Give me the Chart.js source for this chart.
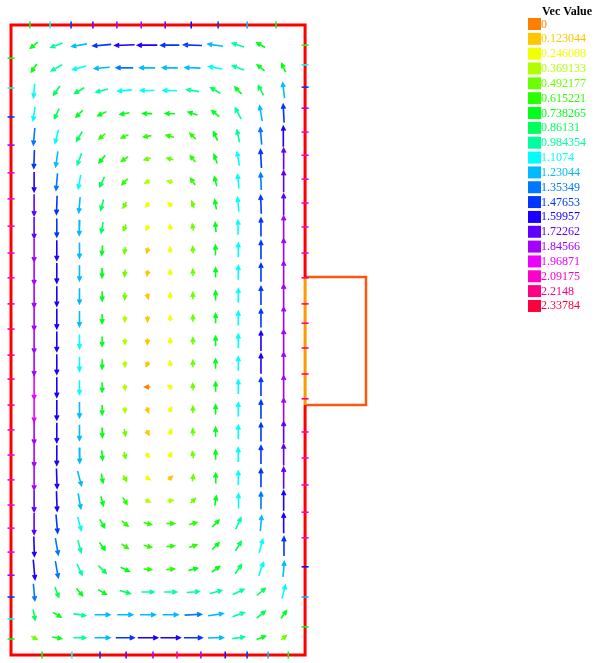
<!DOCTYPE html>
<html>
<head>
<meta charset="utf-8">
<title>Vec Value</title>
<script src="https://cdn.jsdelivr.net/npm/chart.js@4/dist/chart.umd.min.js"></script>
<style>
  html, body { margin: 0; padding: 0; background: #fff; }
  #wrap { width: 595px; height: 663px; }
</style>
</head>
<body>
<div id="wrap"><canvas id="field" width="595" height="663"></canvas></div>
<script>
// legend classes
const vecLevels = [0, 0.123044, 0.246088, 0.369133, 0.492177, 0.615221, 0.738265, 0.86131,
  0.984354, 1.1074, 1.23044, 1.35349, 1.47653, 1.59957, 1.72262, 1.84566, 1.96871,
  2.09175, 2.2148, 2.33784];
const levelColors = ["#FF8000", "#FFC600", "#F1FF00", "#AFFF00", "#6BFF00", "#2AFF00",
  "#00FF19", "#00FF5B", "#00FF9E", "#00FFFC", "#00BBFF", "#0078FF", "#0036FF",
  "#1900FF", "#5F00FF", "#A600FF", "#EC00FF", "#FF00CB", "#FF0085", "#FF003E"];

// cavity outline and the side box
const cavityW = 0.7;
const cavityH = 1.5;
const portBottom = 0.595;
const portTop = 0.9;
const portRight = 0.845;

// mesh nodes
const nodeX = [0.055, 0.109, 0.163, 0.217, 0.271, 0.325, 0.379, 0.433, 0.487, 0.541, 0.595, 0.649];
const nodeY = [1.452, 1.398, 1.344, 1.289, 1.235, 1.181, 1.127, 1.072, 1.018, 0.964, 0.910,
  0.855, 0.801, 0.747, 0.693, 0.638, 0.584, 0.530, 0.476, 0.421, 0.367, 0.313, 0.259,
  0.204, 0.150, 0.096, 0.041];

// colour class of each arrow, rows from the top
const arrowLevel = [
  [6, 8, 10, 12, 13, 13, 12, 12, 10, 8, 6, null],
  [6, 8, 9, 10, 11, 10, 10, 10, 9, 8, 6, 6],
  [9, 7, 7, 8, 9, 9, 9, 8, 7, 6, 7, 10],
  [9, 7, 6, 6, 6, 6, 6, 6, 6, 8, 10, 12],
  [11, 9, 7, 5, 5, 5, 5, 5, 6, 8, 11, 13],
  [12, 10, 8, 6, 5, 4, 4, 5, 6, 9, 12, 14],
  [13, 11, 9, 7, 5, 3, 3, 5, 6, 9, 11, 14],
  [14, 12, 10, 7, 4, 2, 2, 4, 6, 9, 12, 14],
  [14, 12, 10, 7, 4, 2, 2, 4, 6, 9, 12, 15],
  [15, 13, 10, 6, 4, 1, 2, 4, 6, 9, 12, 15],
  [15, 13, 10, 6, 4, 1, 2, 4, 6, 9, 12, 15],
  [15, 13, 10, 6, 4, 1, 2, 4, 6, 9, 12, 15],
  [15, 13, 10, 6, 3, 1, 2, 4, 6, 9, 12, 15],
  [15, 13, 9, 6, 3, 1, 2, 4, 6, 9, 13, 15],
  [15, 13, 9, 6, 3, 1, 2, 4, 6, 9, 13, 15],
  [16, 13, 9, 6, 3, 0, 2, 4, 6, 9, 12, 15],
  [16, 13, 10, 6, 3, 1, 2, 4, 6, 9, 12, 15],
  [15, 13, 10, 6, 4, 1, 2, 4, 6, 9, 12, 14],
  [15, 13, 10, 6, 4, 2, 2, 4, 6, 9, 12, 14],
  [15, 13, 10, 6, 4, 2, 1, 4, 6, 9, 12, 14],
  [14, 13, 10, 6, 5, 3, 3, 4, 6, 9, 11, 13],
  [14, 12, 9, 6, 5, 5, 5, 5, 6, 8, 10, 13],
  [13, 11, 8, 6, 5, 5, 5, 5, 6, 7, 9, 12],
  [13, 11, 8, 7, 6, 5, 5, 6, 6, 7, 9, 10],
  [11, 7, 6, 6, 7, 8, 8, 8, 8, 8, 7, 9],
  [7, 6, 8, 10, 10, 10, 10, 11, 10, 8, 7, 6],
  [4, 6, 8, 10, 12, 13, 13, 12, 10, 8, 6, 4]
];

// arrow direction in degrees, counter-clockwise from +x
const arrowAngle = [
  [220, 200, 190, 185, 182, 180, 180, 178, 172, 162, 150, 135],
  [235, 210, 195, 185, 180, 180, 180, 178, 170, 160, 140, 115],
  [265, 235, 210, 195, 185, 180, 178, 170, 150, 135, 118, 97],
  [262, 245, 225, 205, 190, 180, 178, 162, 140, 118, 100, 93],
  [265, 255, 240, 220, 205, 190, 165, 135, 115, 102, 95, 92],
  [268, 262, 250, 230, 215, 195, 165, 130, 110, 100, 93, 90],
  [270, 265, 260, 245, 225, 210, 165, 125, 105, 95, 92, 90],
  [270, 268, 265, 255, 240, 225, 135, 110, 100, 95, 92, 90],
  [270, 270, 268, 260, 250, 250, 100, 100, 95, 92, 90, 90],
  [270, 270, 270, 265, 260, 255, 95, 95, 92, 90, 90, 90],
  [270, 270, 270, 268, 265, 260, 95, 92, 90, 90, 90, 90],
  [270, 270, 270, 270, 268, 285, 90, 90, 90, 90, 90, 90],
  [270, 270, 270, 270, 270, 270, 90, 90, 90, 90, 90, 90],
  [270, 270, 270, 270, 270, 265, 95, 90, 90, 90, 90, 90],
  [270, 270, 270, 270, 272, 250, 100, 90, 90, 90, 90, 90],
  [270, 270, 270, 270, 275, 180, 150, 95, 90, 90, 90, 90],
  [270, 270, 270, 270, 275, 290, 60, 90, 90, 90, 90, 90],
  [270, 270, 270, 272, 280, 300, 70, 92, 90, 90, 90, 90],
  [270, 270, 272, 275, 285, 310, 60, 100, 90, 90, 90, 90],
  [270, 272, 285, 280, 300, 330, 40, 80, 88, 90, 90, 90],
  [270, 272, 280, 285, 300, 340, 10, 45, 80, 88, 90, 90],
  [270, 275, 285, 300, 320, 345, 0, 15, 45, 65, 85, 90],
  [272, 280, 285, 305, 325, 345, 5, 20, 45, 60, 75, 88],
  [275, 280, 295, 315, 335, 355, 5, 15, 35, 55, 72, 85],
  [275, 290, 310, 330, 345, 0, 0, 5, 15, 25, 40, 75],
  [280, 330, 350, 0, 0, 0, 0, 3, 8, 20, 40, 55],
  [330, 350, 0, 0, 0, 0, 0, 0, 2, 8, 20, 40]
];

// wall nodes (zero velocity)
const topWallX = [0.045, 0.093, 0.143, 0.195, 0.252, 0.310, 0.367, 0.429, 0.493, 0.562, 0.631];
const topWallLevel = [6, 9, 12, 14, 15, 15, 14, 13, 12, 10, 6];
const bottomWallX = [0.074, 0.145, 0.212, 0.274, 0.338, 0.395, 0.452, 0.510, 0.562, 0.612, 0.660];
const bottomWallLevel = [6, 9, 12, 14, 15, 17, 15, 13, 12, 10, 6];
const leftWallY = [1.421, 1.350, 1.281, 1.214, 1.148, 1.086, 1.021, 0.957, 0.898, 0.836, 0.776,
  0.714, 0.657, 0.595, 0.536, 0.476, 0.417, 0.357, 0.302, 0.245, 0.190, 0.138, 0.086, 0.038];
const leftWallLevel = [6, 9, 12, 15, 17, 17, 17, 17, 17, 18, 18, 18, 18, 18, 17, 17, 17, 17, 17,
  16, 15, 12, 9, 6];
const rightWallY = [1.452, 1.405, 1.352, 1.302, 1.245, 1.190, 1.133, 1.076, 1.019, 0.957, 0.898,
  0.836, 0.790, 0.731, 0.669, 0.610, 0.531, 0.469, 0.405, 0.340, 0.279, 0.210, 0.138, 0.067];
const rightWallLevel = [5, 9, 12, 15, 17, 17, 17, 17, 17, 17, 18, 18, 18, 18, 18, 18, 17, 17, 17,
  17, 17, 13, 10, 6];

document.addEventListener("DOMContentLoaded", () => {
  const ctx = document.getElementById("field").getContext("2d");
  const step = vecLevels[1];
  const lenPerValue = 0.028; // arrow length per unit of velocity
  const minLen = 0.013;
  const head = 0.011;
  const gap = { x: null, y: null };

  // one polyline dataset per colour class, arrows separated by gaps
  const arrowPoints = levelColors.map(() => []);
  arrowLevel.forEach((row, k) => {
    row.forEach((lv, c) => {
      if (lv === null) return;
      const value = vecLevels[lv] + step / 2;
      const len = Math.max(value * lenPerValue, minLen);
      const a = (arrowAngle[k][c] * Math.PI) / 180;
      const ux = Math.cos(a);
      const uy = Math.sin(a);
      const x0 = nodeX[c] - (ux * len) / 2;
      const y0 = nodeY[k] - (uy * len) / 2;
      const x1 = x0 + ux * len;
      const y1 = y0 + uy * len;
      const b1 = a + Math.PI - 0.45;
      const b2 = a + Math.PI + 0.45;
      arrowPoints[lv].push(
        { x: x0, y: y0 }, { x: x1, y: y1 }, gap,
        { x: x1 + head * Math.cos(b1), y: y1 + head * Math.sin(b1) },
        { x: x1, y: y1 },
        { x: x1 + head * Math.cos(b2), y: y1 + head * Math.sin(b2) }, gap
      );
    });
  });

  const arrowDatasets = arrowPoints.map((pts, i) => ({
    type: "line",
    data: pts,
    borderColor: levelColors[i],
    borderWidth: 1.6,
    pointRadius: 0,
    spanGaps: false,
    tension: 0,
    clip: false,
    order: 2,
  }));

  const wallPoints = [];
  const wallColors = [];
  const wallRot = [];
  topWallX.forEach((x, i) => {
    wallPoints.push({ x: x, y: cavityH });
    wallColors.push(levelColors[topWallLevel[i]]);
    wallRot.push(90);
  });
  bottomWallX.forEach((x, i) => {
    wallPoints.push({ x: x, y: 0 });
    wallColors.push(levelColors[bottomWallLevel[i]]);
    wallRot.push(90);
  });
  leftWallY.forEach((y, i) => {
    wallPoints.push({ x: 0, y: y });
    wallColors.push(levelColors[leftWallLevel[i]]);
    wallRot.push(0);
  });
  rightWallY.forEach((y, i) => {
    wallPoints.push({ x: cavityW, y: y });
    wallColors.push(levelColors[rightWallLevel[i]]);
    wallRot.push(0);
  });

  const outline = (pts, color, width) => ({
    type: "line",
    data: pts,
    borderColor: color,
    borderWidth: width,
    pointRadius: 0,
    tension: 0,
    clip: false,
    order: 1,
  });

  const datasets = [
    {
      type: "scatter",
      data: wallPoints,
      pointStyle: "line",
      pointRadius: 3.5,
      pointBorderWidth: 1.6,
      pointBorderColor: wallColors,
      pointBackgroundColor: wallColors,
      rotation: wallRot,
      clip: false,
      order: 0,
    },
    outline([
      { x: cavityW, y: portTop }, { x: cavityW, y: cavityH }, { x: 0, y: cavityH },
      { x: 0, y: 0 }, { x: cavityW, y: 0 }, { x: cavityW, y: portBottom }
    ], "#FF0000", 3),
    outline([{ x: cavityW, y: portBottom }, { x: cavityW, y: portTop }], "#FF9900", 3),
    outline([
      { x: cavityW, y: portTop }, { x: portRight, y: portTop },
      { x: portRight, y: portBottom }, { x: cavityW, y: portBottom }
    ], "#FF5511", 2.5),
    ...arrowDatasets,
  ];

  // colour key on the right
  const legendPlugin = {
    id: "vecLegend",
    afterDraw(chart) {
      const c = chart.ctx;
      c.save();
      c.textBaseline = "alphabetic";
      c.fillStyle = "#000";
      c.font = 'bold 12px "Liberation Serif"';
      c.fillText("Vec Value", 542, 15);
      c.font = '12px "Liberation Serif"';
      vecLevels.forEach((v, i) => {
        const top = 18 + i * 14.84;
        c.fillStyle = levelColors[i];
        c.fillRect(528, top, 13, 12);
        c.fillText(String(v), 541, top + 9.5);
      });
      c.restore();
    },
  };

  new Chart(ctx, {
    type: "scatter",
    data: { datasets: datasets },
    options: {
      responsive: false,
      animation: false,
      devicePixelRatio: 1,
      layout: { padding: { left: 11, top: 25, right: 229, bottom: 8 } },
      scales: {
        x: { type: "linear", min: 0, max: portRight, display: false },
        y: { type: "linear", min: 0, max: cavityH, display: false },
      },
      plugins: { legend: { display: false }, tooltip: { enabled: false } },
    },
    plugins: [legendPlugin],
  });
});
</script>
</body>
</html>
